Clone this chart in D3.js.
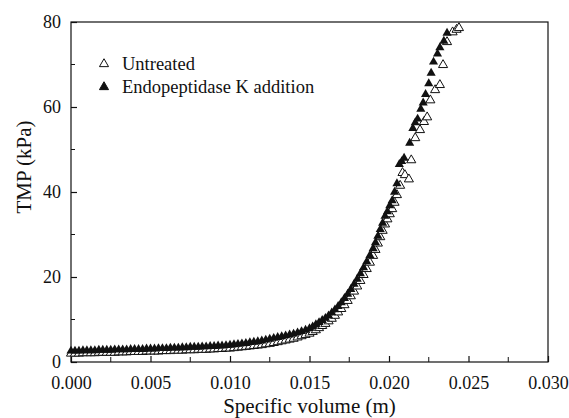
<!DOCTYPE html>
<html>
<head>
<meta charset="utf-8">
<script src="https://cdn.jsdelivr.net/npm/d3@7"></script>
<style>
  body { margin: 0; background: #fff; }
  svg text { font-family: "Liberation Serif", "Times New Roman", serif; fill: #111; }
</style>
</head>
<body>
<div id="chart"></div>
<script>
// Specific volume (m) / TMP (kPa)
const untreatedVol = [
  0.00000, 0.00025, 0.00050, 0.00075, 0.00100, 0.00125, 0.00150, 0.00175, 0.00200, 0.00225,
  0.00250, 0.00275, 0.00300, 0.00325, 0.00350, 0.00375, 0.00400, 0.00425, 0.00450, 0.00475,
  0.00500, 0.00525, 0.00550, 0.00575, 0.00600, 0.00625, 0.00650, 0.00675, 0.00700, 0.00725,
  0.00750, 0.00775, 0.00800, 0.00825, 0.00850, 0.00875, 0.00900, 0.00925, 0.00950, 0.00975,
  0.01000, 0.01025, 0.01050, 0.01075, 0.01100, 0.01125, 0.01150, 0.01175, 0.01200, 0.01225,
  0.01250, 0.01275, 0.01300, 0.01325, 0.01350, 0.01375, 0.01400, 0.01425, 0.01450, 0.01475,
  0.01500, 0.01520, 0.01540, 0.01560, 0.01580, 0.01600, 0.01620, 0.01640, 0.01660, 0.01680,
  0.01700, 0.01720, 0.01740, 0.01760, 0.01780, 0.01800, 0.01820, 0.01840, 0.01860, 0.01880,
  0.01900, 0.01915, 0.01930, 0.01945, 0.01960, 0.01975, 0.01990, 0.02005, 0.02020, 0.02035,
  0.02050, 0.02070, 0.02085, 0.02100, 0.02125, 0.02140, 0.02165, 0.02195, 0.02220, 0.02240,
  0.02260, 0.02290, 0.02320, 0.02340, 0.02365, 0.02400, 0.02425, 0.02440
];
const untreatedTmp = [
  2.0, 2.0, 2.0, 2.1, 2.1, 2.1, 2.1, 2.2, 2.2, 2.2,
  2.2, 2.2, 2.3, 2.3, 2.3, 2.4, 2.4, 2.4, 2.4, 2.5,
  2.5, 2.5, 2.5, 2.6, 2.6, 2.6, 2.7, 2.7, 2.7, 2.8,
  2.8, 2.8, 2.9, 2.9, 2.9, 3.0, 3.0, 3.1, 3.1, 3.2,
  3.2, 3.3, 3.4, 3.5, 3.6, 3.7, 3.8, 3.9, 4.0, 4.2,
  4.3, 4.5, 4.7, 4.9, 5.1, 5.3, 5.5, 5.8, 6.1, 6.4,
  6.7, 7.1, 7.5, 8.0, 8.5, 9.0, 9.6, 10.2, 10.9, 11.7,
  12.5, 13.4, 14.4, 15.5, 16.6, 17.8, 19.1, 20.5, 21.9, 23.4,
  25.0, 26.4, 27.9, 29.4, 30.9, 32.4, 33.6, 34.8, 36.0, 37.5,
  39.3, 41.5, 44.5, 44.0, 43.0, 47.5, 52.7, 54.6, 56.5, 57.6,
  61.6, 64.0, 65.2, 69.9, 75.3, 77.6, 78.2, 78.6
];

const endoVol = [
  0.00000, 0.00025, 0.00050, 0.00075, 0.00100, 0.00125, 0.00150, 0.00175, 0.00200, 0.00225,
  0.00250, 0.00275, 0.00300, 0.00325, 0.00350, 0.00375, 0.00400, 0.00425, 0.00450, 0.00475,
  0.00500, 0.00525, 0.00550, 0.00575, 0.00600, 0.00625, 0.00650, 0.00675, 0.00700, 0.00725,
  0.00750, 0.00775, 0.00800, 0.00825, 0.00850, 0.00875, 0.00900, 0.00925, 0.00950, 0.00975,
  0.01000, 0.01025, 0.01050, 0.01075, 0.01100, 0.01125, 0.01150, 0.01175, 0.01200, 0.01225,
  0.01250, 0.01275, 0.01300, 0.01325, 0.01350, 0.01375, 0.01400, 0.01425, 0.01450, 0.01475,
  0.01500, 0.01520, 0.01540, 0.01560, 0.01580, 0.01600, 0.01620, 0.01640, 0.01660, 0.01680,
  0.01700, 0.01720, 0.01740, 0.01760, 0.01780, 0.01800, 0.01820, 0.01840, 0.01860, 0.01880,
  0.01900, 0.01915, 0.01930, 0.01945, 0.01960, 0.01975, 0.01990, 0.02005, 0.02020, 0.02035,
  0.02050, 0.02065, 0.02080, 0.02095, 0.02130, 0.02150, 0.02165, 0.02180, 0.02200, 0.02215,
  0.02230, 0.02250, 0.02265, 0.02280, 0.02305, 0.02320, 0.02345, 0.02365
];
const endoTmp = [
  2.6, 2.6, 2.6, 2.7, 2.7, 2.7, 2.7, 2.8, 2.8, 2.8,
  2.8, 2.9, 2.9, 2.9, 2.9, 3.0, 3.0, 3.0, 3.0, 3.1,
  3.1, 3.1, 3.2, 3.2, 3.2, 3.3, 3.3, 3.3, 3.4, 3.4,
  3.5, 3.5, 3.5, 3.6, 3.6, 3.7, 3.7, 3.8, 3.8, 3.9,
  4.0, 4.1, 4.2, 4.3, 4.4, 4.6, 4.7, 4.8, 5.0, 5.2,
  5.4, 5.6, 5.8, 6.0, 6.2, 6.4, 6.6, 6.9, 7.2, 7.5,
  7.9, 8.3, 8.8, 9.3, 9.8, 10.3, 10.9, 11.6, 12.3, 13.1,
  14.0, 15.0, 16.0, 17.1, 18.3, 19.5, 20.8, 22.2, 23.6, 25.1,
  26.7, 28.1, 29.6, 31.2, 32.7, 34.3, 35.4, 36.8, 38.0, 40.0,
  42.0, 46.5, 47.2, 48.0, 51.5, 55.0, 56.3, 57.2, 59.5, 61.0,
  63.0, 65.5, 68.0, 70.6, 72.5, 74.0, 75.5, 77.4
];

const xTicks = [0, 0.005, 0.010, 0.015, 0.020, 0.025, 0.030];
const xMinor = [0.0025, 0.0075, 0.0125, 0.0175, 0.0225, 0.0275];
const yTicks = [0, 20, 40, 60, 80];
const yMinor = [10, 30, 50, 70];
const seriesNames = ["Untreated", "Endopeptidase K addition"];

const width = 569, height = 418;
const margin = { top: 22, right: 21, bottom: 56, left: 71 };

const svg = d3.select("#chart").append("svg")
  .attr("width", width)
  .attr("height", height);

const x = d3.scaleLinear().domain([0, 0.030]).range([margin.left, width - margin.right]);
const y = d3.scaleLinear().domain([0, 80]).range([height - margin.bottom, margin.top]);

const tri = d3.symbol().type(d3.symbolTriangle).size(36);

// frame
svg.append("rect")
  .attr("x", x(0)).attr("y", y(80))
  .attr("width", x(0.030) - x(0)).attr("height", y(0) - y(80))
  .attr("fill", "none").attr("stroke", "#111").attr("stroke-width", 1.2);

// x axis, ticks inward
const xAxis = svg.append("g").attr("transform", `translate(0,${y(0)})`)
  .call(d3.axisBottom(x).tickValues(xTicks).tickSize(-6).tickPadding(14).tickFormat(d3.format(".3f")));
xAxis.append("g").selectAll("line").data(xMinor).join("line")
  .attr("x1", d => x(d)).attr("x2", d => x(d)).attr("y1", 0).attr("y2", -5)
  .attr("stroke", "#111");

const yAxis = svg.append("g").attr("transform", `translate(${x(0)},0)`)
  .call(d3.axisLeft(y).tickValues(yTicks).tickSize(-6).tickPadding(10));
yAxis.append("g").selectAll("line").data(yMinor).join("line")
  .attr("x1", 0).attr("x2", 4).attr("y1", d => y(d)).attr("y2", d => y(d))
  .attr("stroke", "#111");

svg.selectAll(".domain").remove();
svg.selectAll(".tick line").attr("stroke", "#111").attr("stroke-width", 1.2);
svg.selectAll(".tick text")
  .style("font-family", "'Liberation Serif', serif")
  .style("font-size", "18px").attr("fill", "#111");
yAxis.selectAll(".tick text").attr("dy", "0.33em");

// axis titles
svg.append("text")
  .attr("x", (x(0) + x(0.030)) / 2).attr("y", 413)
  .attr("text-anchor", "middle").style("font-size", "21px")
  .text("Specific volume (m)");
svg.append("text")
  .attr("transform", "translate(31,167) rotate(-90)")
  .attr("text-anchor", "middle").style("font-size", "21px")
  .text("TMP (kPa)");

// data
const endo = endoVol.map((v, i) => [v, endoTmp[i]]);
const untreated = untreatedVol.map((v, i) => [v, untreatedTmp[i]]);

svg.append("g").selectAll("path").data(untreated).join("path")
  .attr("d", tri)
  .attr("transform", d => `translate(${x(d[0])},${y(d[1])})`)
  .attr("fill", "#fff").attr("stroke", "#111").attr("stroke-width", 1);

svg.append("g").selectAll("path").data(endo).join("path")
  .attr("d", tri)
  .attr("transform", d => `translate(${x(d[0])},${y(d[1])})`)
  .attr("fill", "#111");

// legend
const legend = svg.append("g");
seriesNames.forEach((name, i) => {
  const ly = 64 + i * 23;
  legend.append("path")
    .attr("d", tri)
    .attr("transform", `translate(104,${ly})`)
    .attr("fill", i === 0 ? "#fff" : "#111")
    .attr("stroke", "#111").attr("stroke-width", 1);
  legend.append("text")
    .attr("x", 122).attr("y", ly + 6)
    .style("font-size", "18.5px")
    .text(name);
});
</script>
</body>
</html>
